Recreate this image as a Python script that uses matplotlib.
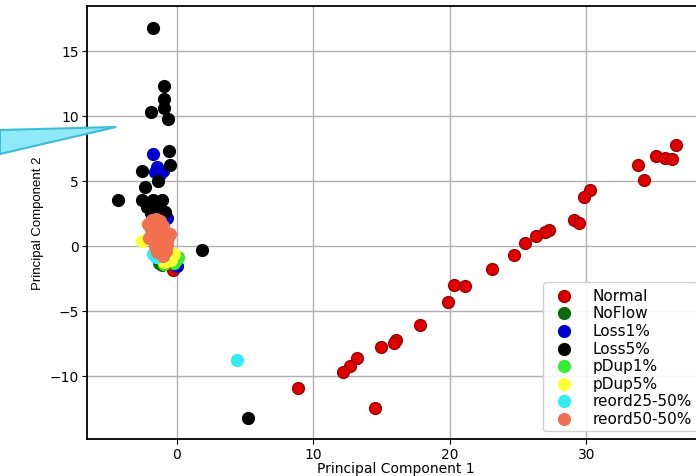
import numpy as np
import matplotlib
matplotlib.use("Agg")
import matplotlib.pyplot as plt
from matplotlib.patches import Polygon

# --- data (PC1, PC2) ---
normal_x = [36.6, 35.1, 35.8, 36.3, 33.8, 34.2, 30.3, 29.8, 29.1, 29.5, 27.3, 27.0, 26.3,
            25.5, 24.7, 23.1, 21.1, 20.3, 19.9, 17.8, 16.1, 15.9, 15.0, 13.2, 12.7, 12.2,
            8.9, 14.5, -0.26]
normal_y = [7.8, 6.9, 6.8, 6.7, 6.2, 5.1, 4.3, 3.8, 2.0, 1.8, 1.2, 1.1, 0.8,
            0.2, -0.7, -1.8, -3.1, -3.0, -4.3, -6.1, -7.2, -7.5, -7.8, -8.6, -9.2, -9.7,
            -10.9, -12.5, -1.85]

noflow_x = [-1.1, -0.9, -1.3]
noflow_y = [-1.5, -1.4, -1.3]

loss1_x = [-1.7, -1.4, -1.0, -1.6, -1.2, -0.7, 0.0, -0.2]
loss1_y = [7.1, 6.1, 5.8, 5.7, 5.5, 2.15, -1.55, -1.3]

loss5_x = [-1.7, -0.9, -0.9, -0.9, -1.9, -0.6, -0.55, -0.5, -2.5, -1.35, -2.3, -4.3,
           -2.5, -1.7, -1.1, -2.2, -1.6, -1.2, -1.9, -1.35, -0.85, 1.85, 5.2]
loss5_y = [16.8, 12.3, 11.3, 10.6, 10.3, 9.8, 7.3, 6.2, 5.8, 5.0, 4.5, 3.5,
           3.5, 3.5, 3.5, 3.0, 3.0, 2.8, 2.5, 2.5, 2.6, -0.3, -13.2]

pdup1_x = [0.1, -0.2, -0.9, 0.0]
pdup1_y = [-0.85, -1.3, -1.4, -1.0]

pdup5_x = [-2.5, -0.7, -0.4, -0.9, -0.2]
pdup5_y = [0.4, -0.8, -1.1, -1.2, -0.6]

reord25_x = [4.4, -1.5, -1.7]
reord25_y = [-8.8, -0.85, -0.6]

reord50_x = [-1.8, -1.5, -1.2, -1.6, -1.0, -1.9, -1.4, -0.9, -1.7, -1.2, -0.6, -1.5,
             -1.0, -0.7, -1.6, -1.2, -0.8, -1.4, -1.0, -1.3, -0.5, -2.0, -1.1, -2.1]
reord50_y = [2.0, 2.1, 1.9, 1.6, 1.5, 1.3, 1.2, 1.0, 0.9, 0.7, 0.6, 0.4,
             0.3, 0.1, 0.0, -0.2, -0.4, -0.5, -0.8, 0.2, 0.9, 0.6, 1.2, 1.7]

labels = ["Normal", "NoFlow", "Loss1%", "Loss5%", "pDup1%", "pDup5%", "reord25-50%", "reord50-50%"]
colors = ["#e00000", "#0a6a0a", "#0000d0", "#000000", "#33ee33", "#ffff33", "#33eef0", "#f07050"]
xs = [normal_x, noflow_x, loss1_x, loss5_x, pdup1_x, pdup5_x, reord25_x, reord50_x]
ys = [normal_y, noflow_y, loss1_y, loss5_y, pdup1_y, pdup5_y, reord25_y, reord50_y]

fig = plt.figure(figsize=(6.96, 4.77), dpi=100)
ax = fig.add_axes([0.125, 0.0776, 0.888, 0.9077])

for x, y, lab, c in zip(xs, ys, labels, colors):
    edge = "#a00000" if lab == "Normal" else c
    ax.scatter(x, y, s=72, color=c, edgecolors=edge, linewidths=1, label=lab)

ax.set_xlim(-6.56, 38.7)
ax.set_ylim(-14.85, 18.46)
ax.set_xticks([0, 10, 20, 30])
ax.set_yticks([-10, -5, 0, 5, 10, 15])
ax.tick_params(labelsize=10, pad=2.5)
ax.tick_params(axis="x", pad=2)
ax.grid(True, color="#b0b0b0", linewidth=1)
ax.set_axisbelow(True)
for sp in ax.spines.values():
    sp.set_linewidth(1.3)

ax.set_xlabel("Principal Component 1", fontsize=10, labelpad=0)
ax.set_ylabel("Principal Component 2", fontsize=9.5,
              family=["Liberation Sans Narrow", "Liberation Sans", "DejaVu Sans"])

ax.legend(loc="lower right", fontsize=11, labelspacing=0.17, handletextpad=0.9,
          borderpad=0.35, scatterpoints=1, framealpha=0.9)

# cyan callout pointer at the left edge
W, H = 696, 477
pts = [(0, 131), (116, 128), (0, 155)]
fig.patches.append(Polygon([(px / W, 1 - py / H) for px, py in pts], closed=True,
                           transform=fig.transFigure, facecolor="#8fe9f8",
                           edgecolor="#3cbcd8", linewidth=1.5, zorder=5))

plt.savefig("out.png", dpi=100)
